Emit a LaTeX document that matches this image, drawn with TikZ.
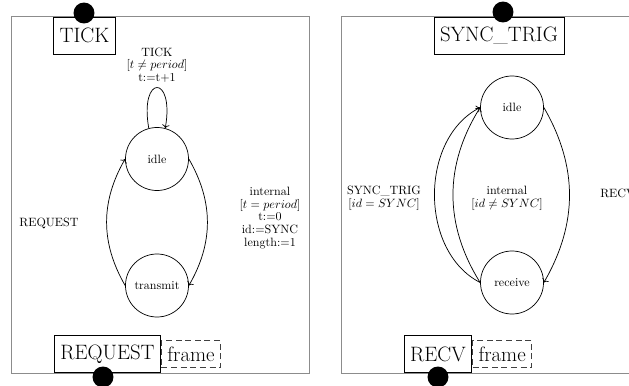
\documentclass[tikz,border=0pt]{standalone}
\usepackage{amsmath}
\usetikzlibrary{arrows.meta}
\tikzset{
  comp/.style={draw=black!45, line width=0.8pt},
  state/.style={circle, draw, line width=0.6pt, minimum size=52.3pt, inner sep=0pt, font=\normalsize},
  port/.style={draw, line width=0.6pt, font=\LARGE, minimum height=30.7pt, inner xsep=5pt, inner ysep=0pt},
  msgbox/.style={draw=black!75, dash pattern=on 5pt off 3pt, line width=0.6pt, font=\LARGE, minimum height=22.4pt, inner xsep=5pt, inner ysep=0pt, anchor=west},
  portdot/.style={circle, fill=black, inner sep=0pt, minimum size=17.4pt},
  trans/.style={->, line width=0.6pt},
  elbl/.style={font=\fontsize{10}{10.5}\selectfont, align=center},
  }
\begin{document}
\begin{tikzpicture}[x=0.83pt,y=0.83pt]
  \useasboundingbox (0,0) rectangle (629,385);
  \clip (0,0) rectangle (629,385);

  % sender
  \draw[comp] (11,12) rectangle (309.5,369);
  \node[port] (tick) at (84.5,349.5) {TICK};
  \node[portdot] (tickdot) at (84,372) {};
  \node[port] (request) at (107.5,31) {REQUEST};
  \node[msgbox] (reqframe) at (request.east) {frame};
  \node[portdot] (reqdot) at (103,8) {};

  \node[state] (idleA) at (157,226) {idle};
  \node[state] (transmit) at (157,99.5) {transmit};

  \draw[trans] (idleA.105) .. controls +(100:55) and +(80:55) .. (idleA.75);
  \draw[trans] (transmit.west) to[bend left=30] (idleA.west);
  \draw[trans] (idleA.east) to[bend left=30] (transmit.east);

  \node[elbl] (lblTick) at (157,320) {TICK\\ $[t \neq period]$\\ t:=t+1};
  \node[elbl] (lblReq) at (49,162) {REQUEST};
  \node[elbl] (lblInt) at (270,167) {internal\\ $[t = period]$\\ t:=0\\ id:=SYNC\\ length:=1};

  % receiver
  \draw[comp] (341,12) rectangle (700,369);
  \node[port] (sync) at (499,349.5) {SYNC\_TRIG};
  \node[portdot] (syncdot) at (503,373) {};
  \node[port] (recv) at (438,31) {RECV};
  \node[msgbox] (recvframe) at (recv.east) {frame};
  \node[portdot] (recvdot) at (438,8) {};

  \node[state] (idleB) at (512,277.5) {idle};
  \node[state] (receive) at (512,102.5) {receive};

  \draw[trans] (receive.west) to[bend left=63] (idleB.west);
  \draw[trans] (receive.west) to[bend left=32] (idleB.west);
  \draw[trans] (idleB.east) to[bend left=30] (receive.east);

  \node[elbl] (lblSync) at (384,186.5) {SYNC\_TRIG\\ $[id = SYNC]$};
  \node[elbl] (lblIntB) at (507,186.5) {internal\\ $[id \neq SYNC]$};
  \node[elbl, anchor=west] (lblRecv) at (596,192) {RECV};
\end{tikzpicture}
\end{document}
